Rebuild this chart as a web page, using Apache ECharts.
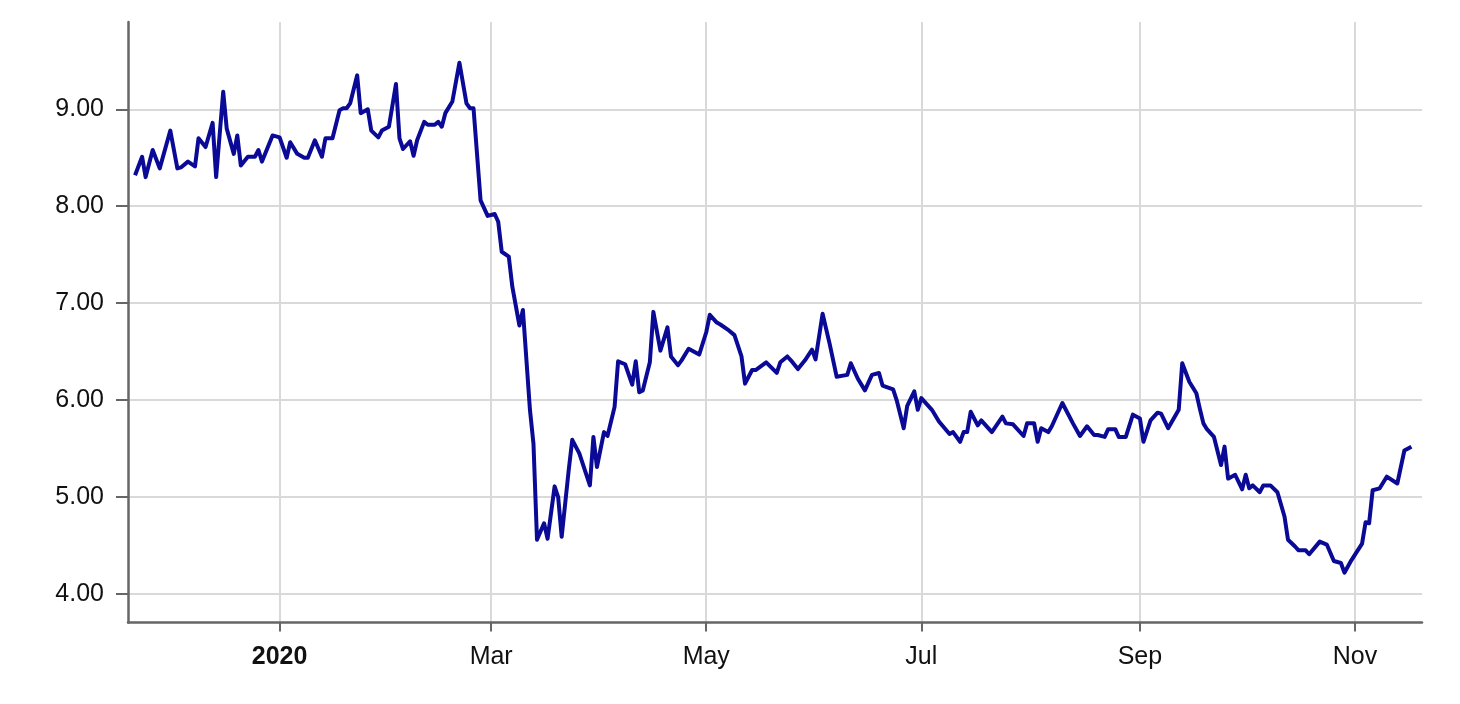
<!DOCTYPE html>
<html>
<head>
<meta charset="utf-8">
<script src="https://cdn.jsdelivr.net/npm/echarts@6/dist/echarts.min.js"></script>
<style>
  html, body { margin: 0; padding: 0; background: #fff; }
  #chart { width: 1460px; height: 704px; }
</style>
</head>
<body>
<div id="chart"></div>
<script>
const dates = [
  '2019-11-21','2019-11-23','2019-11-24','2019-11-26','2019-11-28','2019-12-01','2019-12-03','2019-12-04','2019-12-06','2019-12-08',
  '2019-12-09','2019-12-11','2019-12-13','2019-12-14','2019-12-16','2019-12-17','2019-12-19','2019-12-20','2019-12-21','2019-12-23',
  '2019-12-25','2019-12-26','2019-12-27','2019-12-30','2020-01-01','2020-01-03','2020-01-04','2020-01-06','2020-01-08','2020-01-09',
  '2020-01-11','2020-01-13','2020-01-14','2020-01-16','2020-01-18','2020-01-19','2020-01-20','2020-01-21','2020-01-23','2020-01-24',
  '2020-01-26','2020-01-27','2020-01-29','2020-01-30','2020-02-01','2020-02-03','2020-02-04','2020-02-05','2020-02-07','2020-02-08',
  '2020-02-09','2020-02-11','2020-02-12','2020-02-14','2020-02-15','2020-02-16','2020-02-17','2020-02-19','2020-02-21','2020-02-23',
  '2020-02-24','2020-02-25','2020-02-27','2020-02-29','2020-03-02','2020-03-03','2020-03-04','2020-03-06','2020-03-07','2020-03-09',
  '2020-03-10','2020-03-12','2020-03-13','2020-03-14','2020-03-16','2020-03-17','2020-03-19','2020-03-20','2020-03-21','2020-03-23',
  '2020-03-24','2020-03-26','2020-03-29','2020-03-30','2020-03-31','2020-04-02','2020-04-03','2020-04-05','2020-04-06','2020-04-08',
  '2020-04-10','2020-04-11','2020-04-12','2020-04-13','2020-04-15','2020-04-16','2020-04-18','2020-04-20','2020-04-21','2020-04-23',
  '2020-04-24','2020-04-26','2020-04-29','2020-05-01','2020-05-02','2020-05-04','2020-05-05','2020-05-07','2020-05-09','2020-05-11',
  '2020-05-12','2020-05-14','2020-05-15','2020-05-18','2020-05-21','2020-05-22','2020-05-24','2020-05-25','2020-05-27','2020-05-29',
  '2020-05-31','2020-06-01','2020-06-03','2020-06-05','2020-06-07','2020-06-10','2020-06-11','2020-06-13','2020-06-15','2020-06-17',
  '2020-06-19','2020-06-20','2020-06-23','2020-06-24','2020-06-26','2020-06-27','2020-06-29','2020-06-30','2020-07-01','2020-07-04',
  '2020-07-06','2020-07-09','2020-07-10','2020-07-12','2020-07-13','2020-07-14','2020-07-15','2020-07-17','2020-07-18','2020-07-21',
  '2020-07-24','2020-07-25','2020-07-27','2020-07-30','2020-07-31','2020-08-02','2020-08-03','2020-08-04','2020-08-06','2020-08-07',
  '2020-08-10','2020-08-13','2020-08-15','2020-08-17','2020-08-19','2020-08-20','2020-08-22','2020-08-23','2020-08-25','2020-08-26',
  '2020-08-28','2020-08-30','2020-09-01','2020-09-02','2020-09-04','2020-09-06','2020-09-07','2020-09-09','2020-09-12','2020-09-13',
  '2020-09-15','2020-09-17','2020-09-18','2020-09-19','2020-09-20','2020-09-22','2020-09-24','2020-09-25','2020-09-26','2020-09-28',
  '2020-09-30','2020-10-01','2020-10-02','2020-10-03','2020-10-05','2020-10-06','2020-10-08','2020-10-10','2020-10-12','2020-10-13',
  '2020-10-15','2020-10-16','2020-10-18','2020-10-19','2020-10-22','2020-10-24','2020-10-26','2020-10-28','2020-10-29','2020-10-31',
  '2020-11-03','2020-11-04','2020-11-05','2020-11-06','2020-11-08','2020-11-10','2020-11-13','2020-11-15','2020-11-17'
];
const values = [
  8.32,8.51,8.30,8.58,8.39,8.78,8.39,8.40,8.46,8.41,
  8.70,8.61,8.86,8.30,9.18,8.80,8.54,8.73,8.42,8.51,
  8.51,8.58,8.46,8.73,8.71,8.50,8.66,8.54,8.50,8.50,
  8.68,8.51,8.70,8.70,8.99,9.01,9.01,9.06,9.35,8.96,
  9.00,8.78,8.71,8.78,8.82,9.26,8.70,8.59,8.67,8.52,
  8.68,8.87,8.84,8.84,8.87,8.82,8.96,9.08,9.48,9.06,
  9.01,9.01,8.06,7.90,7.92,7.84,7.53,7.48,7.17,6.77,
  6.93,5.90,5.55,4.56,4.73,4.57,5.11,5.00,4.59,5.28,
  5.59,5.45,5.12,5.62,5.31,5.67,5.63,5.93,6.40,6.37,
  6.16,6.40,6.08,6.10,6.39,6.91,6.51,6.75,6.45,6.36,
  6.41,6.53,6.47,6.70,6.88,6.80,6.78,6.73,6.67,6.45,
  6.17,6.31,6.31,6.39,6.28,6.39,6.45,6.41,6.32,6.41,
  6.52,6.42,6.89,6.58,6.24,6.26,6.38,6.22,6.10,6.26,
  6.28,6.15,6.11,6.00,5.71,5.94,6.09,5.90,6.02,5.90,
  5.78,5.65,5.67,5.57,5.67,5.67,5.88,5.74,5.79,5.67,
  5.83,5.76,5.75,5.63,5.76,5.76,5.57,5.71,5.67,5.73,
  5.97,5.76,5.63,5.73,5.64,5.64,5.62,5.70,5.70,5.62,
  5.62,5.85,5.81,5.57,5.79,5.87,5.86,5.71,5.90,6.38,
  6.19,6.07,5.91,5.76,5.70,5.62,5.33,5.52,5.19,5.23,
  5.08,5.23,5.09,5.12,5.05,5.12,5.12,5.05,4.80,4.56,
  4.49,4.45,4.45,4.41,4.54,4.51,4.34,4.32,4.22,4.35,
  4.52,4.74,4.73,5.07,5.09,5.21,5.14,5.48,5.52
];
const xTickDates = ['2020-01-01','2020-03-01','2020-05-01','2020-07-01','2020-09-01','2020-11-01'];
const xTickLabels = ['2020','Mar','May','Jul','Sep','Nov'];
const yTicks = [4, 5, 6, 7, 8, 9];

const toTs = s => new Date(s + 'T00:00:00').getTime();
const xTickTs = xTickDates.map(toTs);

const chart = echarts.init(document.getElementById('chart'), null, { renderer: 'canvas' });
const fontFamily = "'Liberation Sans', Arial, Helvetica, sans-serif";
chart.setOption({
  animation: false,
  backgroundColor: '#ffffff',
  grid: { left: 128, right: 38, top: 22, bottom: 81.5, containLabel: false },
  xAxis: {
    type: 'value',
    min: toTs('2019-11-19'),
    max: toTs('2020-11-20'),
    axisLine: { show: true, lineStyle: { color: '#666666', width: 2.5 } },
    axisTick: { show: true, length: 9, customValues: xTickTs, lineStyle: { color: '#666666', width: 2 } },
    splitLine: { show: true, lineStyle: { color: '#d9d9d9', width: 2 } },
    axisLabel: {
      customValues: xTickTs,
      margin: 22,
      fontSize: 25,
      color: '#111111',
      fontFamily: fontFamily,
      formatter: function (val) {
        let i = -1;
        for (let k = 0; k < xTickTs.length; k++) {
          if (Math.abs(xTickTs[k] - val) < 3600000) { i = k; break; }
        }
        if (i < 0) return '';
        return i === 0 ? '{b|' + xTickLabels[i] + '}' : xTickLabels[i];
      },
      rich: { b: { fontWeight: 'bold', fontSize: 25, color: '#111111', fontFamily: fontFamily } }
    }
  },
  yAxis: {
    type: 'value',
    min: 3.706,
    max: 9.90,
    axisLine: { show: true, lineStyle: { color: '#666666', width: 2.5 } },
    axisTick: { show: true, length: 12, customValues: yTicks, lineStyle: { color: '#666666', width: 2 } },
    splitLine: { show: true, lineStyle: { color: '#d9d9d9', width: 2 } },
    axisLabel: {
      customValues: yTicks,
      margin: 24,
      fontSize: 25,
      color: '#111111',
      fontFamily: fontFamily,
      formatter: v => Number(v).toFixed(2)
    }
  },
  series: [{
    type: 'line',
    data: dates.map((d, i) => [toTs(d), values[i]]),
    showSymbol: false,
    symbol: 'none',
    lineStyle: { color: '#0a0a96', width: 4, join: 'round' },
    itemStyle: { color: '#0a0a96' }
  }]
});
</script>
</body>
</html>
